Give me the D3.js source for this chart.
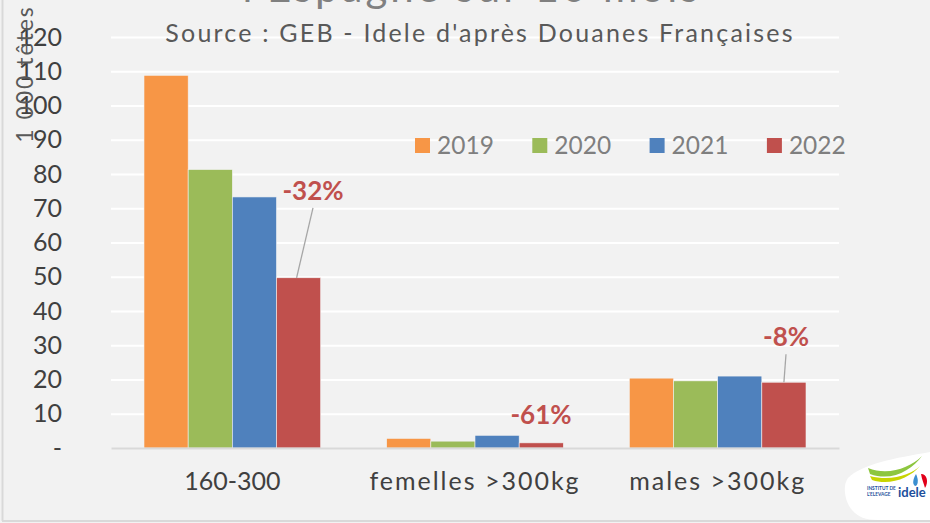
<!DOCTYPE html>
<html>
<head>
<meta charset="utf-8">
<script src="https://cdn.jsdelivr.net/npm/d3@7"></script>
<style>
  html, body { margin: 0; padding: 0; background: #f2f2f2; }
  svg { display: block; font-family: 'Lato', 'Open Sans', sans-serif; }
</style>
</head>
<body>
<div id="chart"></div>
<script>
// Data.
var categories = ['160-300', 'femelles >300kg', 'males >300kg'];
var years = ['2019', '2020', '2021', '2022'];
var values2019 = [108.8, 2.8, 20.4];
var values2020 = [81.3, 2.0, 19.6];
var values2021 = [73.3, 3.7, 21.0];
var values2022 = [49.7, 1.5, 19.2];
var colors = ['#f79646', '#9bbb59', '#4f81bd', '#c0504d'];
var yTicks = [0, 10, 20, 30, 40, 50, 60, 70, 80, 90, 100, 110, 120];
var changes = ['-32%', '-61%', '-8%'];

var series = [values2019, values2020, values2021, values2022];

var W = 930, H = 523;
var margin = { top: 37, right: 91, bottom: 75, left: 111 };
var width = W - margin.left - margin.right;
var height = H - margin.top - margin.bottom;

var svg = d3.select('#chart').append('svg')
  .attr('width', W)
  .attr('height', H);

// Frame borders.
svg.append('rect').attr('x', 0).attr('y', 0).attr('width', W).attr('height', H).attr('fill', '#f2f2f2');
svg.append('line').attr('x1', 2.5).attr('x2', 2.5).attr('y1', 0).attr('y2', 521)
  .attr('stroke', '#d9d9d9').attr('stroke-width', 2);
svg.append('line').attr('x1', 2).attr('x2', W).attr('y1', 521).attr('y2', 521)
  .attr('stroke', '#d9d9d9').attr('stroke-width', 2);

// Cut-off main title at the very top.
svg.append('text')
  .attr('x', 472).attr('y', 2)
  .attr('text-anchor', 'middle')
  .attr('font-size', 42)
  .attr('letter-spacing', 3)
  .attr('fill', '#808080')
  .text("l'Espagne sur 10 mois");

var x0 = d3.scaleBand()
  .domain(categories)
  .range([0, width])
  .paddingInner(0.272)
  .paddingOuter(0.136);

var x1 = d3.scaleBand()
  .domain(years)
  .range([0, x0.bandwidth()]);

var y = d3.scaleLinear()
  .domain([0, 120])
  .range([height, 0]);

var chart = svg.append('g')
  .attr('transform', 'translate(' + margin.left + ',' + margin.top + ')');

// Gridlines.
var grid = d3.axisLeft(y)
  .tickValues(yTicks.slice(1))
  .tickFormat('')
  .tickSizeInner(-width)
  .tickSizeOuter(0);

chart.append('g')
  .attr('class', 'grid')
  .call(grid)
  .call(function(g) {
    g.select('.domain').remove();
    g.selectAll('line').attr('stroke', '#ffffff').attr('stroke-width', 2);
  });

// Source line, drawn over the grid.
svg.append('text')
  .attr('x', 480).attr('y', 42)
  .attr('text-anchor', 'middle')
  .attr('font-size', 25)
  .attr('letter-spacing', 2.2)
  .attr('fill', '#595959')
  .text("Source : GEB - Idele d'après Douanes Françaises");

// Bars.
var groups = chart.selectAll('g.group')
  .data(categories)
  .enter().append('g')
  .attr('class', 'group')
  .attr('transform', function(d) { return 'translate(' + x0(d) + ',0)'; });

groups.selectAll('rect')
  .data(function(d, i) {
    return years.map(function(yr, j) { return { year: yr, value: series[j][i], k: j }; });
  })
  .enter().append('rect')
  .attr('x', function(d) { return x1(d.year); })
  .attr('y', function(d) { return y(d.value); })
  .attr('width', x1.bandwidth())
  .attr('height', function(d) { return height - y(d.value); })
  .attr('fill', function(d) { return colors[d.k]; })
  .attr('stroke', '#f2f2f2')
  .attr('stroke-width', 0.6);

// X axis baseline and labels.
var xAxis = d3.axisBottom(x0).tickSize(0).tickPadding(24);
chart.append('g')
  .attr('class', 'x axis')
  .attr('transform', 'translate(0,' + height + ')')
  .call(xAxis)
  .call(function(g) {
    g.select('.domain').attr('stroke', '#d9d9d9').attr('stroke-width', 2);
    g.selectAll('text')
      .attr('font-size', 25)
      .attr('font-family', "'Lato', 'Open Sans', sans-serif")
      .attr('letter-spacing', function(d, i) { return i === 0 ? 0 : 2; })
      .attr('fill', '#404040');
  });

// Y axis labels.
var yAxis = d3.axisLeft(y)
  .tickValues(yTicks)
  .tickSize(0)
  .tickPadding(49)
  .tickFormat(function(d) { return d === 0 ? '-' : d; });

chart.append('g')
  .attr('class', 'y axis')
  .call(yAxis)
  .call(function(g) {
    g.select('.domain').remove();
    g.selectAll('text')
      .attr('font-size', 25)
      .attr('font-family', "'Lato', 'Open Sans', sans-serif")
      .attr('fill', '#404040');
  });

// Y axis title.
svg.append('text')
  .attr('transform', 'translate(33,74) rotate(-90)')
  .attr('text-anchor', 'middle')
  .attr('font-size', 23)
  .attr('letter-spacing', 2)
  .attr('fill', '#595959')
  .text('1 000 têtes');

// Legend.
var legend = svg.append('g').attr('class', 'legend');
var legendItems = legend.selectAll('g')
  .data(years)
  .enter().append('g')
  .attr('transform', function(d, i) { return 'translate(' + (415 + i * 117.3) + ',138)'; });

legendItems.append('rect')
  .attr('width', 15).attr('height', 15)
  .attr('fill', function(d, i) { return colors[i]; });

legendItems.append('text')
  .attr('x', 22).attr('y', 16)
  .attr('font-size', 24.5)
  .attr('fill', '#7f7f7f')
  .text(function(d) { return d; });

// Change annotations for 2022 vs 2021.
var labelX = [313, 541, 786];
var labelGap = [78, 19, 36];
var hasLeader = [true, false, true];

categories.forEach(function(c, i) {
  var bx = x0(c) + x1('2022') + x1.bandwidth() / 2;
  var by = y(values2022[i]);
  var tx = labelX[i] - margin.left;
  var ty = by - labelGap[i];
  if (hasLeader[i]) {
    chart.append('line')
      .attr('x1', tx).attr('y1', ty + 8)
      .attr('x2', i === 0 ? bx - 2 : bx).attr('y2', by)
      .attr('stroke', '#a6a6a6').attr('stroke-width', 1.3);
  }
  chart.append('text')
    .attr('x', tx).attr('y', ty)
    .attr('text-anchor', 'middle')
    .attr('font-size', 26)
    .attr('font-weight', 'bold')
    .attr('fill', '#c0504d')
    .text(changes[i]);
});

// Idele logo in the corner.
var logo = svg.append('g').attr('class', 'logo');
logo.append('path')
  .attr('d', 'M930,452 C895,458 862,464 848,478 C842,486 845,502 852,510 C858,517 866,520 878,520 L930,520 Z')
  .attr('fill', '#ffffff');
logo.append('path')
  .attr('d', 'M868,468 C888,476 910,468 922,456 C912,470 892,482 870,474 Z')
  .attr('fill', '#8dc63f');
logo.append('path')
  .attr('d', 'M870,476 C892,482 912,474 920,466 C910,478 890,486 872,480 Z')
  .attr('fill', '#c8d400');
logo.append('path')
  .attr('d', 'M916,474 C913,479 912,484 915,486 C918,486 919,480 916,474 Z')
  .attr('fill', '#3b8fd0');
logo.append('path')
  .attr('d', 'M921,474 C927,474 929,482 925,488 C924,484 922,480 921,474 Z')
  .attr('fill', '#e2001a');
logo.append('text')
  .attr('x', 867).attr('y', 490)
  .attr('font-size', 4.8).attr('font-weight', 'bold')
  .attr('fill', '#1d4f9c')
  .text('INSTITUT DE');
logo.append('text')
  .attr('x', 867).attr('y', 496)
  .attr('font-size', 4.8).attr('font-weight', 'bold')
  .attr('fill', '#1d4f9c')
  .text("L'ELEVAGE");
logo.append('text')
  .attr('x', 898).attr('y', 497)
  .attr('font-size', 13).attr('font-weight', 'bold')
  .attr('fill', '#1d4f9c')
  .text('idele');
</script>
</body>
</html>
